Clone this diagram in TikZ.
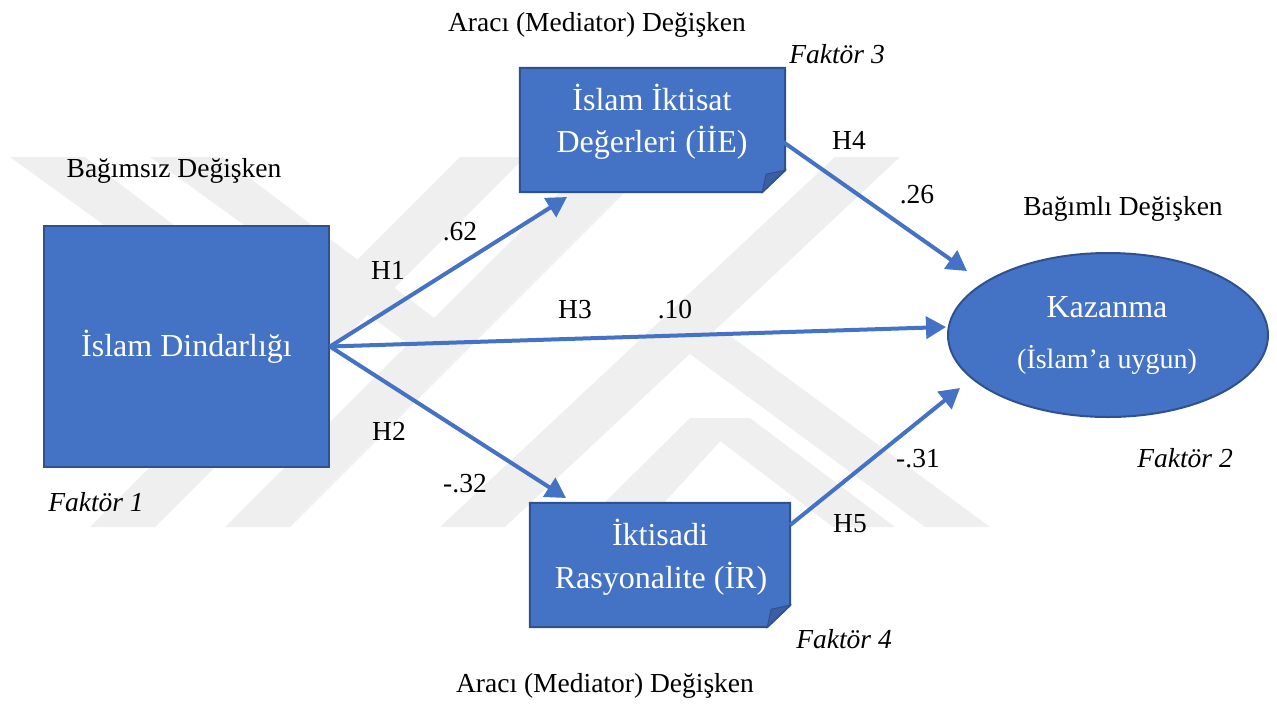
\documentclass[tikz,border=0pt]{standalone}
\usepackage{fontspec}
\setmainfont{Liberation Serif}
\usetikzlibrary{arrows.meta,calc,shapes.geometric}
\definecolor{boxblue}{HTML}{4472C4}
\definecolor{boxedge}{HTML}{2F528F}
\definecolor{folddark}{HTML}{3A5FA3}
\definecolor{wmgray}{HTML}{EFEFEF}
\begin{document}
\begin{tikzpicture}[x=1pt,y=-1pt,
  lbl/.style={font=\fontsize{27.5}{33}\selectfont, anchor=base, inner sep=0pt},
  fak/.style={font=\fontsize{27.5}{33}\selectfont\itshape, anchor=base, inner sep=0pt},
  boxtxt/.style={text=white, anchor=base, inner sep=0pt, font=\fontsize{32}{40}\selectfont},
  smalltxt/.style={text=white, anchor=base, inner sep=0pt, font=\fontsize{28}{34}\selectfont},
  bluebox/.style={fill=boxblue, draw=boxedge, line width=2pt},
  holder/.style={inner sep=0pt, draw=none},
  conn/.style={draw=boxblue, line width=4pt, -{Triangle[length=20pt,width=22pt]}},
  wmark/.style={fill=wmgray}
]
\useasboundingbox (0,0) rectangle (1277,705);

% watermark (faint)
\fill[wmark] (10,157) -- (85,157) -- (330,345) -- (270,345) -- cycle;
\fill[wmark] (90,527) -- (155,527) -- (525,157) -- (460,157) -- cycle;
\fill[wmark] (150,157) -- (222,157) -- (470,345) -- (410,345) -- cycle;
\fill[wmark] (225,527) -- (290,527) -- (660,157) -- (595,157) -- cycle;
\fill[wmark] (440,527) -- (505,527) -- (900,157) -- (835,157) -- cycle;
\fill[wmark] (660,332) -- (725,332) -- (990,527) -- (925,527) -- cycle;
\fill[wmark] (580,527) -- (642,527) -- (735,425) -- (690,418) -- cycle;
\fill[wmark] (690,418) -- (750,418) -- (895,527) -- (833,527) -- cycle;

% left box
\node[bluebox, text=white, minimum width=285, minimum height=241, inner sep=0pt,
      font=\fontsize{32}{40}\selectfont] (dind) at (186.5,346.5) {İslam Dindarlığı};

% top folded box
\node[holder, minimum width=265, minimum height=124] (iie) at (652.5,130) {};
\filldraw[bluebox] (iie.north west) -- (iie.north east) -- ($(iie.south east)+(0,-22)$)
   -- ($(iie.south east)+(-23,0)$) -- (iie.south west) -- cycle;
\filldraw[fill=folddark, draw=boxedge, line width=1pt] ($(iie.south east)+(0,-22)$)
   -- ($(iie.south east)+(-19,-18)$) -- ($(iie.south east)+(-23,0)$) -- cycle;

% bottom folded box
\node[holder, minimum width=260, minimum height=124] (ir) at (660,565) {};
\filldraw[bluebox] (ir.north west) -- (ir.north east) -- ($(ir.south east)+(0,-22)$)
   -- ($(ir.south east)+(-23,0)$) -- (ir.south west) -- cycle;
\filldraw[fill=folddark, draw=boxedge, line width=1pt] ($(ir.south east)+(0,-22)$)
   -- ($(ir.south east)+(-19,-18)$) -- ($(ir.south east)+(-23,0)$) -- cycle;

% ellipse
\node[ellipse, fill=boxblue, draw=boxedge, line width=2pt, minimum width=320,
      minimum height=164, inner sep=0pt] (kaz) at (1108,335) {};

% connectors
\coordinate (t1) at (567,197);
\coordinate (t2) at (566,498);
\coordinate (t3) at (946,327);
\coordinate (t4) at (967,271);
\coordinate (t5) at (960,388);
\coordinate (s4) at ($(iie.east)+(-2,12)$);
\coordinate (s5) at ($(ir.east)+(0,-40)$);
\draw[conn] (dind.east) -- (t1);
\draw[conn] (dind.east) -- (t2);
\draw[conn] (dind.east) -- (t3);
\draw[conn] (s4) -- (t4);
\draw[conn] (s5) -- (t5);

% box texts
\node[boxtxt] (iie1) at (652,110) {İslam İktisat};
\node[boxtxt] (iie2) at (652,152) {Değerleri (İİE)};
\node[boxtxt] (ir1) at (660,545) {İktisadi};
\node[boxtxt] (ir2) at (661,588) {Rasyonalite (İR)};
\node[boxtxt] (kaz1) at (1107,317) {Kazanma};
\node[smalltxt] (kaz2) at (1107,368) {(İslam’a uygun)};

% labels
\node[lbl] (medtop) at (597,31) {Aracı (Mediator) Değişken};
\node[fak] (f3) at (837,63) {Faktör 3};
\node[lbl] (bagimsiz) at (174,177) {Bağımsız Değişken};
\node[lbl] (bagimli) at (1123,215) {Bağımlı Değişken};
\node[lbl] (h4) at (849,149) {H4};
\node[lbl] (v26) at (917,203) {.26};
\node[lbl] (v62) at (460,240) {.62};
\node[lbl] (h1) at (388,279) {H1};
\node[lbl] (h3) at (575,318) {H3};
\node[lbl] (v10) at (675,318) {.10};
\node[lbl] (h2) at (389,440) {H2};
\node[lbl] (v32) at (465,492) {-.32};
\node[lbl] (v31) at (918,467) {-.31};
\node[lbl] (h5) at (850,532) {H5};
\node[fak] (f2) at (1185,467) {Faktör 2};
\node[fak] (f1) at (96,511) {Faktör 1};
\node[fak] (f4) at (844,648) {Faktör 4};
\node[lbl] (medbot) at (605,692) {Aracı (Mediator) Değişken};
\end{tikzpicture}
\end{document}
